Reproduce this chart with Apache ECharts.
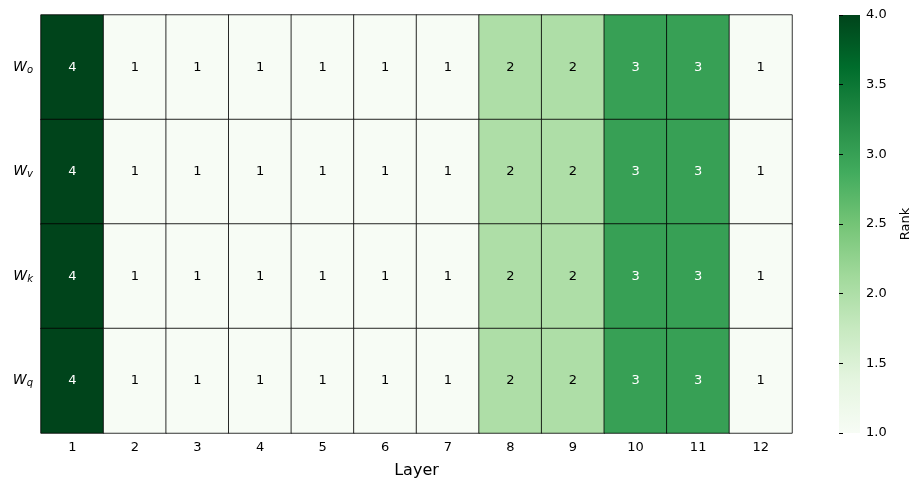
<!DOCTYPE html>
<html>
<head>
<meta charset="utf-8">
<script src="https://cdn.jsdelivr.net/npm/echarts@6/dist/echarts.min.js"></script>
<style>
  html, body { margin: 0; padding: 0; background: #fff; }
  #chart { width: 921px; height: 490px; }
</style>
</head>
<body>
<div id="chart"></div>
<script>
const layers = ['1', '2', '3', '4', '5', '6', '7', '8', '9', '10', '11', '12'];
const weights = ['o', 'v', 'k', 'q'];
const rankWo = [4, 1, 1, 1, 1, 1, 1, 2, 2, 3, 3, 1];
const rankWv = [4, 1, 1, 1, 1, 1, 1, 2, 2, 3, 3, 1];
const rankWk = [4, 1, 1, 1, 1, 1, 1, 2, 2, 3, 3, 1];
const rankWq = [4, 1, 1, 1, 1, 1, 1, 2, 2, 3, 3, 1];
const colorTicks = ['1.0', '1.5', '2.0', '2.5', '3.0', '3.5', '4.0'];

// matplotlib "Greens"
const greens = ['#f7fcf5', '#e5f5e0', '#c7e9c0', '#a1d99b', '#74c476',
  '#41ab5d', '#238b45', '#006d2c', '#00441b'];

const rows = [rankWo, rankWv, rankWk, rankWq];
const cells = [];
rows.forEach((r, yi) => {
  r.forEach((v, xi) => cells.push({
    value: [xi, yi, v],
    label: { color: v >= 3 ? '#fff' : '#000' },
  }));
});

// colorbar: gradient from bottom (1) to top (4)
const barGradient = new echarts.graphic.LinearGradient(0, 1, 0, 0,
  greens.map((c, i) => ({ offset: i / (greens.length - 1), color: c })));

const font = 'DejaVu Sans';
const chart = echarts.init(document.getElementById('chart'));

chart.setOption({
  animation: false,
  textStyle: { fontFamily: font },
  grid: [
    { left: 41, top: 15, width: 751, height: 418, outerBoundsMode: 'none' },
    {
      left: 839, top: 15, width: 21, height: 418, outerBoundsMode: 'none',
      show: true, borderWidth: 0, backgroundColor: barGradient,
    },
  ],
  xAxis: [
    {
      type: 'category',
      data: layers,
      gridIndex: 0,
      name: 'Layer',
      nameLocation: 'middle',
      nameGap: 30,
      nameTextStyle: { fontSize: 16, color: '#000', fontFamily: font },
      axisLine: { show: false },
      axisTick: { alignWithLabel: true, length: 4, lineStyle: { color: '#000' } },
      axisLabel: { fontSize: 13, color: '#000', margin: 8 },
      splitLine: { show: false },
    },
    {
      type: 'value', gridIndex: 1, show: false, min: 0, max: 1,
    },
  ],
  yAxis: [
    {
      type: 'category',
      data: weights,
      gridIndex: 0,
      inverse: true,
      axisLine: { show: false },
      axisTick: { alignWithLabel: true, length: 4, lineStyle: { color: '#000' } },
      axisLabel: {
        margin: 8,
        formatter: (v) => '{w|W}{s|' + v + '}',
        rich: {
          w: { fontSize: 14, fontStyle: 'italic', color: '#000', fontFamily: font },
          s: { fontSize: 10, fontStyle: 'italic', color: '#000', fontFamily: font, verticalAlign: 'bottom', padding: [6, 0, 0, 0] },
        },
      },
      splitLine: { show: false },
    },
    {
      type: 'value',
      gridIndex: 1,
      position: 'right',
      min: 1,
      max: 4,
      interval: 0.5,
      name: 'Rank',
      nameLocation: 'middle',
      nameRotate: 90,
      nameGap: 39,
      nameTextStyle: { fontSize: 13, color: '#000', fontFamily: font },
      axisLine: { show: false },
      axisTick: { show: true, length: 4, lineStyle: { color: '#000', width: 1 } },
      axisLabel: {
        fontSize: 13, color: '#000', margin: 6,
        formatter: (v) => colorTicks[Math.round((v - 1) * 2)],
      },
      splitLine: { show: false },
    },
  ],
  visualMap: {
    type: 'continuous',
    show: false,
    min: 1,
    max: 4,
    seriesIndex: 0,
    inRange: { color: greens },
  },
  series: [
    {
      type: 'heatmap',
      xAxisIndex: 0,
      yAxisIndex: 0,
      data: cells,
      itemStyle: { borderColor: '#000', borderWidth: 0.8 },
      label: {
        show: true,
        fontSize: 13,
        fontFamily: font,
        formatter: (p) => p.value[2],
      },
      emphasis: { disabled: true },
    },
  ],
});
</script>
</body>
</html>
